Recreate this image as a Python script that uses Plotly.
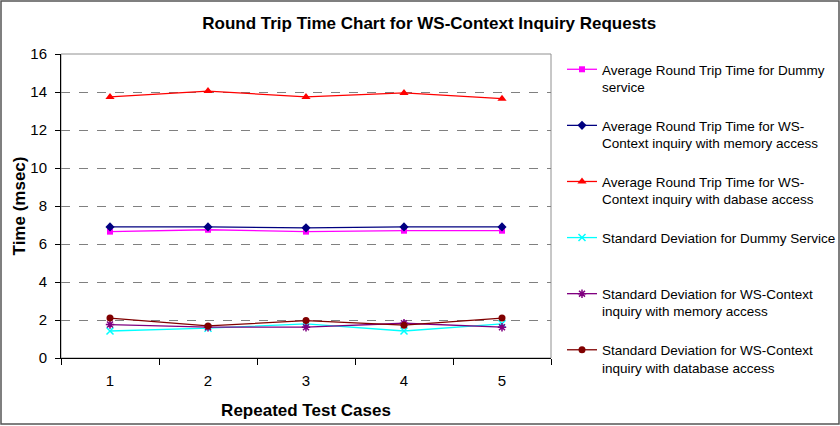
import plotly.graph_objects as go

cases = ["1", "2", "3", "4", "5"]
avg_dummy = [6.65, 6.75, 6.65, 6.7, 6.7]
avg_memory = [6.9, 6.9, 6.85, 6.9, 6.9]
avg_db = [13.74, 14.05, 13.74, 13.95, 13.65]
std_dummy = [1.42, 1.57, 1.8, 1.42, 1.8]
std_memory = [1.76, 1.62, 1.62, 1.83, 1.62]
std_db = [2.1, 1.69, 1.97, 1.73, 2.1]

names = [
    "Average Round Trip Time for Dummy<br>service",
    "Average Round Trip Time for WS-<br>Context inquiry with memory access",
    "Average Round Trip Time for WS-<br>Context inquiry with dabase access",
    "Standard Deviation for Dummy Service<br> ",
    "Standard Deviation for WS-Context<br>inquiry with memory access",
    "Standard Deviation for WS-Context<br>inquiry with database access",
]
series = [avg_dummy, avg_memory, avg_db, std_dummy, std_memory, std_db]
colors = ["#FF00FF", "#000080", "#FF0000", "#00FFFF", "#800080", "#800000"]
symbols = ["square", "diamond", "triangle-up", "x-thin-open", "asterisk-open", "circle"]
sizes = [6, 7, 8, 7, 7, 7]

fig = go.Figure()
for i, (nm, ys, c, s, sz) in enumerate(zip(names, series, colors, symbols, sizes)):
    marker = dict(symbol=s, size=sz, color=c)
    if s.endswith("open"):
        marker["line"] = dict(color=c, width=1.5)
    fig.add_trace(go.Scatter(
        x=cases, y=ys, name=nm, mode="lines+markers",
        line=dict(color=c, width=1.3), marker=marker,
        legendgroup=f"g{i}",
    ))

fig.update_layout(
    width=840, height=426,
    margin=dict(l=61, r=289, t=54, b=68, autoexpand=False),
    paper_bgcolor="white", plot_bgcolor="white",
    font=dict(family="Liberation Sans, Arial, sans-serif", color="black", size=14),
    title=dict(text="<b>Round Trip Time Chart for WS-Context Inquiry Requests</b>",
               x=0.511, xanchor="center", y=1 - 23 / 426, yanchor="middle",
               font=dict(size=17)),
    legend=dict(x=(562 - 61) / 490, xanchor="left", y=1.0, yanchor="top",
                valign="top", tracegroupgap=18, maxheight=420,
                font=dict(size=13.5), bgcolor="rgba(0,0,0,0)"),
    showlegend=True,
)
fig.update_xaxes(
    type="category", range=[-0.5, 4.5], tickson="boundaries", ticks="outside",
    ticklen=6, tickcolor="black", showline=True, linecolor="black", linewidth=1,
    showgrid=False, tickfont=dict(size=15), ticklabelstandoff=9,
    title=dict(text="<b>Repeated Test Cases</b>", font=dict(size=17), standoff=16),
)
fig.update_yaxes(
    range=[0, 16], dtick=2, ticks="outside", ticklen=5, tickcolor="black",
    showline=True, linecolor="black", linewidth=1,
    showgrid=True, gridcolor="#808080", griddash="dash", gridwidth=1,
    zeroline=False, tickfont=dict(size=15), ticklabelstandoff=5,
    title=dict(text="<b>Time (msec)</b>", font=dict(size=17), standoff=0),
)
# plot-area border (top/right grey)
fig.add_shape(type="rect", xref="paper", yref="paper", x0=0, x1=1, y0=0, y1=1,
              line=dict(color="#909090", width=1), layer="below")
# outer chart border
fig.add_shape(type="rect", xref="paper", yref="paper",
              x0=(1 - 61) / 490, x1=(839 - 61) / 490,
              y0=(358 - 424) / 304, y1=(358 - 1) / 304,
              line=dict(color="#555555", width=1.5), layer="below")

fig.write_html("out.html")
